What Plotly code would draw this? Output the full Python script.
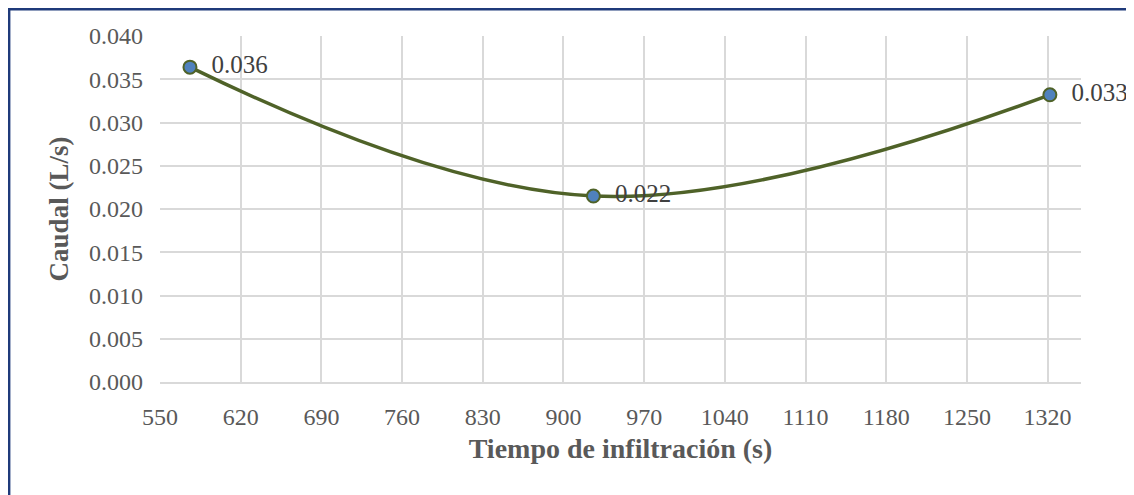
import plotly.graph_objects as go

# Data
tiempo = [576, 926, 1322]
caudal = [0.0364, 0.0215, 0.0332]
etiquetas = ["0.036", "0.022", "0.033"]
x_ticks = [550, 620, 690, 760, 830, 900, 970, 1040, 1110, 1180, 1250, 1320]
y_ticks = [0.000, 0.005, 0.010, 0.015, 0.020, 0.025, 0.030, 0.035, 0.040]

# The page body has an 8px margin, so the figure starts at (8, 8)
OFF = 8
W, H = 1134 - OFF, 495 - OFF
L, R, T, B = 160 - OFF, 53, 36 - OFF, 113
pw, ph = W - L - R, H - T - B

FONT = "Liberation Serif"
grey = "#595959"

fig = go.Figure()
fig.add_trace(go.Scatter(
    x=tiempo, y=caudal,
    mode="lines+markers+text",
    line=dict(color="#4F6228", width=3.5, shape="spline", smoothing=1.1),
    marker=dict(size=13, color="#4F81BD", line=dict(color="#4F6228", width=2)),
    text=["  " + t for t in etiquetas],
    textposition="middle right",
    textfont=dict(family=FONT, size=25, color="#404040"),
    cliponaxis=False,
    showlegend=False,
))

def px_x(p):
    # page pixel -> paper coordinate
    return (p - OFF - L) / pw

def px_y(p):
    return 1 - (p - OFF - T) / ph

fig.update_layout(
    width=W, height=H,
    margin=dict(l=L, r=R, t=T, b=B),
    paper_bgcolor="white", plot_bgcolor="white",
    font=dict(family=FONT, color=grey),
    xaxis=dict(
        range=[550, 1349],
        tickvals=x_ticks,
        ticktext=[str(v) for v in x_ticks],
        showgrid=True, gridcolor="#D9D9D9", gridwidth=1.5,
        zeroline=False,
        showline=True, linecolor="#D9D9D9", linewidth=1.5,
        ticks="", ticklabelstandoff=12,
        tickfont=dict(family=FONT, size=24, color=grey),
        title=dict(text="<b>Tiempo de infiltración (s)</b>",
                   font=dict(family=FONT, size=28, color=grey), standoff=10),
    ),
    yaxis=dict(
        range=[0, 0.040],
        tickvals=y_ticks,
        ticktext=["%.3f" % v for v in y_ticks],
        showgrid=True, gridcolor="#D9D9D9", gridwidth=1.5,
        zeroline=False, showline=False,
        ticks="", ticklabelstandoff=16,
        tickfont=dict(family=FONT, size=24, color=grey),
        title=dict(text="<b>Caudal (L/s)</b>",
                   font=dict(family=FONT, size=27, color=grey), standoff=12),
    ),
    shapes=[dict(
        type="rect", xref="paper", yref="paper",
        x0=px_x(9.2), x1=px_x(1145), y0=px_y(505), y1=px_y(9.2),
        line=dict(color="#1F3A7A", width=2.4), fillcolor="rgba(0,0,0,0)",
        layer="below",
    )],
)

fig.write_html("out.html")
